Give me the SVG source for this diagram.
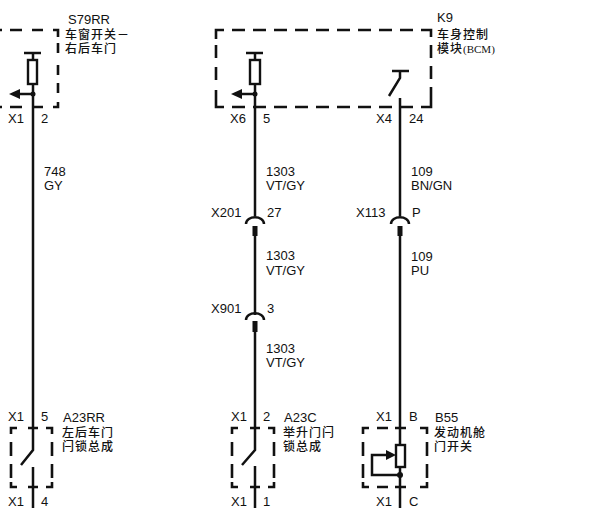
<svg xmlns="http://www.w3.org/2000/svg" width="604" height="508" viewBox="0 0 604 508">
<style>
text{font-family:"Liberation Sans","Noto Sans CJK SC",sans-serif;font-size:13px;fill:#111}
.c{font-size:12px;letter-spacing:1px;font-weight:500}
.s{font-family:"Liberation Serif","Noto Sans CJK SC",serif;font-size:11px;letter-spacing:0}
.w{fill:none;stroke:#111;stroke-width:2.5}
.d{fill:none;stroke:#111;stroke-width:2.6}
.b{fill:#fff;stroke:#111;stroke-width:2.4}
.k{fill:#111;stroke:none}
</style>
<rect width="604" height="508" fill="#fff"/>
<g id="connectors">
<path class="w" d="M33 53V450L21 465M33 467V508"/>
<path class="w" d="M255 53V216M255 236V315M255 332V450L242 465M255 466V508"/>
<path class="w" d="M400 71V78L389 96M400 98V216M400 236V508"/>
</g>
<g id="S79RR">
<path class="d" d="M0 30H2M10 30H22M32 30H43M53 30H58V37M58 43V53M58 65V75M58 83V93M0 107H2M10 107H22M33 107H43M53 107H58V102"/>
<path class="w" d="M24 53H41"/>
<rect class="b" x="28" y="60" width="9" height="24"/>
<path class="w" d="M18 94H33"/>
<path class="k" d="M9 94L20 89V99Z"/>
<circle class="k" cx="33" cy="94" r="2.5"/>
<text x="68" y="24">S79RR</text>
<text class="c" x="65" y="39">车窗开关－</text>
<text class="c" x="65" y="53">右后车门</text>
<text x="8" y="123">X1</text>
<text x="41" y="123">2</text>
<text x="44" y="176">748</text>
<text x="44" y="190">GY</text>
</g>
<g id="K9">
<path class="d" d="M216 39V30H224M232 30H245M253 30H266M274 30H287M295 30H308M316 30H329M337 30H350M358 30H371M379 30H392M400 30H413M421 30H431V37M431 45V58M431 66V79M431 87V100M216 45V58M216 67V80M216 90V107H224M232 107H245M253 107H266M274 107H287M295 107H308M316 107H329M337 107H350M358 107H371M379 107H392M400 107H413M421 107H431V100"/>
<path class="w" d="M246 53H263"/>
<rect class="b" x="250" y="60" width="10" height="24"/>
<path class="w" d="M240 94H255"/>
<path class="k" d="M231 94L242 89V99Z"/>
<circle class="k" cx="255" cy="94" r="2.500"/>
<path class="w" d="M392 71H409"/>
<text x="437" y="22">K9</text>
<text class="c" x="437" y="39">车身控制</text>
<text class="c" x="437" y="53">模块<tspan class="s">(BCM)</tspan></text>
<text x="230" y="123">X6</text>
<text x="263" y="123">5</text>
<text x="376" y="123">X4</text>
<text x="409" y="123">24</text>
<text x="266" y="176">1303</text>
<text x="266" y="190">VT/GY</text>
<text x="411" y="176">109</text>
<text x="411" y="190">BN/GN</text>
</g>
<g id="X201">
<path class="w" d="M246 224C246 215 264 215 264 224"/>
<rect class="k" x="252.500" y="226" width="5" height="10"/>
<text x="211" y="217">X201</text>
<text x="267" y="217">27</text>
<text x="266" y="260">1303</text>
<text x="266" y="275">VT/GY</text>
</g>
<g id="X113">
<path class="w" d="M391 224C391 215 409 215 409 224"/>
<rect class="k" x="397.500" y="226" width="5" height="10"/>
<text x="356" y="217">X113</text>
<text x="412" y="217">P</text>
<text x="411" y="261">109</text>
<text x="411" y="275">PU</text>
</g>
<g id="X901">
<path class="w" d="M246 320C246 311 264 311 264 320"/>
<rect class="k" x="252.500" y="321" width="5" height="11"/>
<text x="211" y="313">X901</text>
<text x="267" y="313">3</text>
<text x="266" y="353">1303</text>
<text x="266" y="367">VT/GY</text>
</g>
<g id="A23RR">
<path class="d" d="M17 428H11V434M11 442V456M11 464V478M11 482V487H17M28 428H38M28 487H38M46 428H52V434M52 442V456M52 464V478M52 482V487H46"/>
<text x="8" y="421">X1</text>
<text x="41" y="421">5</text>
<text x="63" y="422">A23RR</text>
<text class="c" x="62" y="437">左后车门</text>
<text class="c" x="62" y="451">闩锁总成</text>
<text x="8" y="506">X1</text>
<text x="41" y="506">4</text>
</g>
<g id="A23C">
<path class="d" d="M238 428H232V434M232 442V456M232 464V478M232 482V487H238M250 428H260M250 487H260M268 428H274V434M274 442V456M274 464V478M274 482V487H268"/>
<text x="231" y="421">X1</text>
<text x="263" y="421">2</text>
<text x="284" y="422">A23C</text>
<text class="c" x="283" y="437">举升门闩</text>
<text class="c" x="283" y="451">锁总成</text>
<text x="231" y="506">X1</text>
<text x="263" y="506">1</text>
</g>
<g id="B55">
<path class="d" d="M369 428H363V434M363 442V456M363 464V478M363 482V487H369M377 428H388M395 428H406M420 428H427V434M427 442V456M427 464V478M427 482V487H420M377 487H388M395 487H406"/>
<rect class="b" x="396" y="445" width="9" height="22"/>
<path class="w" d="M400 475H372V455H390"/>
<path class="k" d="M396 455L386 450V460Z"/>
<circle class="k" cx="400" cy="475" r="3"/>
<text x="376" y="421">X1</text>
<text x="409" y="421">B</text>
<text x="435" y="422">B55</text>
<text class="c" x="434" y="437">发动机舱</text>
<text class="c" x="434" y="451">门开关</text>
<text x="376" y="506">X1</text>
<text x="409" y="506">C</text>
</g>
</svg>
